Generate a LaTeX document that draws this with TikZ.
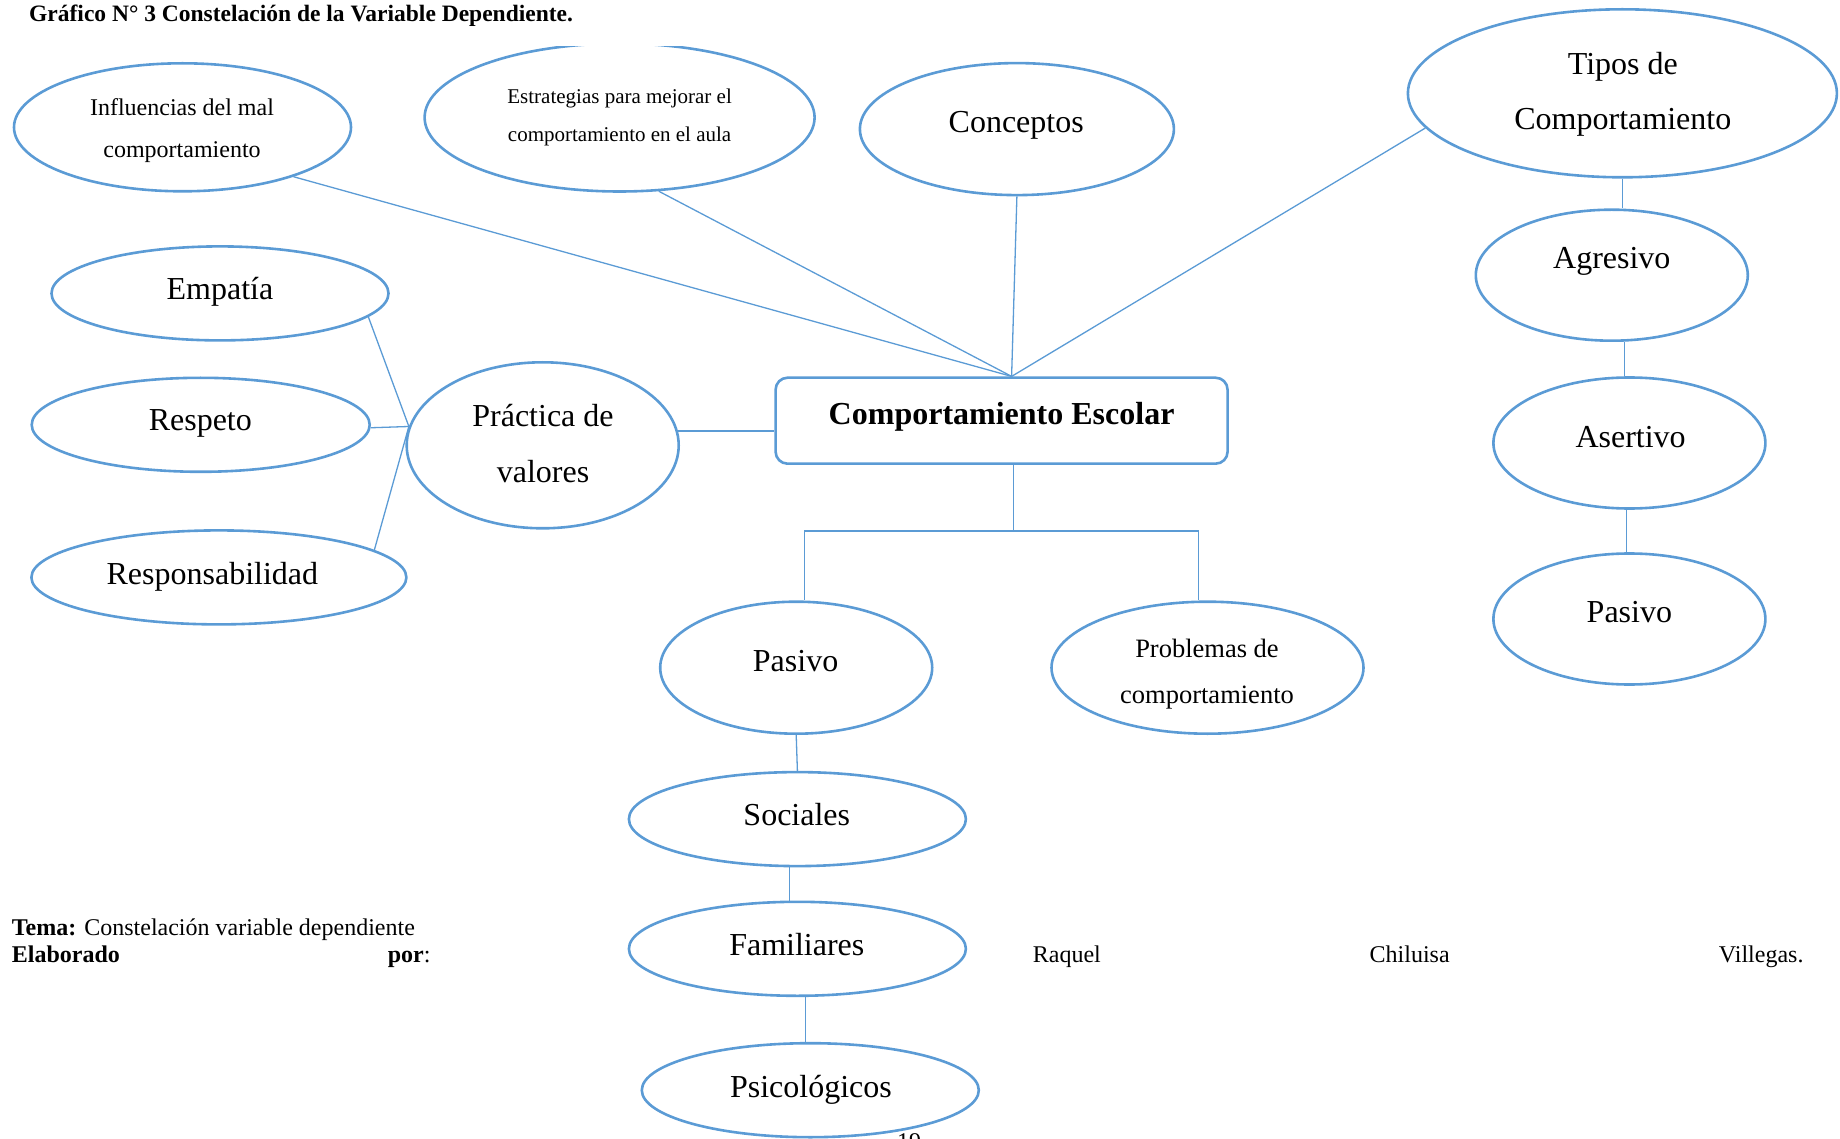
\documentclass[tikz,border=0pt]{standalone}
\usepackage{fontspec}
\setmainfont{Liberation Serif}
\usepackage{tikz}
\usetikzlibrary{calc}
\usetikzlibrary{positioning}
\usetikzlibrary{shapes}
\definecolor{azul}{RGB}{91,155,213}

\begin{document}
\begin{tikzpicture}[x=1pt, y=-1pt,
ell/.style={ellipse,draw=azul,line width=2.6pt,inner sep=0pt},
lin/.style={draw=azul,line width=1.3pt},
lbl/.style={inner sep=0pt,anchor=base,yshift=-3.5pt,font=\fontsize{32}{55}\selectfont},
lbl2/.style={inner sep=0pt,anchor=center,yshift=-3.5pt,align=center},
pie/.style={inner sep=0pt,yshift=-3.5pt,font=\fontsize{24}{27}\selectfont}]

\useasboundingbox (0,0) rectangle (1840,1139);
\clip (0,0) rectangle (1840,1139);

\node[anchor=base west,inner sep=0pt,font=\bfseries\fontsize{23.5}{26}\selectfont] (titulo) at (29,21.5) {Gráfico N° 3 Constelación de la Variable Dependiente.};

% centro
\node[draw=azul,line width=2.6pt,rounded corners=12pt,minimum width=452pt,minimum height=86pt] (box) at (1001.6,420.7) {};
\node[lbl,font=\bfseries\fontsize{32}{55}\selectfont] at (1001.6,421.4) {Comportamiento Escolar};
\coordinate (hub) at ([xshift=10pt]box.north);
\coordinate (bot) at ([xshift=12pt]box.south);
\coordinate (bar) at ($(bot)+(0,66)$);

% arriba
\node[ell,minimum width=337pt,minimum height=128pt] (inf) at (182.5,127.3) {};
\node[lbl2,font=\fontsize{24}{42.3}\selectfont] at (182,126.8) {Influencias del mal\\comportamiento};
\begin{scope}
\clip (0,47) rectangle (1840,300);
\node[ell,minimum width=390pt,minimum height=148pt] (est) at (619.6,117.5) {};
\end{scope}
\node[lbl2,font=\fontsize{21}{37.6}\selectfont] at (619.6,113.8) {Estrategias para mejorar el\\comportamiento en el aula};
\node[ell,minimum width=314pt,minimum height=132pt] (con) at (1016.9,129.1) {};
\node[lbl] at (1016.2,129.2) {Conceptos};
\node[ell,minimum width=429pt,minimum height=168pt] (tip) at (1622.4,93.3) {};
\node[lbl2,font=\fontsize{32}{55}\selectfont] at (1622.8,91) {Tipos de\\Comportamiento};

% izquierda
\node[ell,minimum width=337pt,minimum height=94pt] (emp) at (220,293.4) {};
\node[lbl] at (220,295.9) {Empatía};
\node[ell,minimum width=338pt,minimum height=94pt] (res) at (200.7,424.8) {};
\node[lbl] at (200.3,427.3) {Respeto};
\node[ell,minimum width=375pt,minimum height=94pt] (rsp) at (218.9,577.4) {};
\node[lbl] at (212.4,581) {Responsabilidad};
\node[ell,minimum width=272pt,minimum height=166pt] (pra) at (542.7,445.3) {};
\node[lbl2,font=\fontsize{32}{56.3}\selectfont] at (543,439.9) {Práctica de\\valores};

% derecha
\node[ell,minimum width=272pt,minimum height=131pt] (agr) at (1611.8,275.2) {};
\node[lbl] at (1611.8,265.4) {Agresivo};
\node[ell,minimum width=272pt,minimum height=131pt] (ase) at (1629.4,443) {};
\node[lbl] at (1630.6,443.7) {Asertivo};
\node[ell,minimum width=272pt,minimum height=131pt] (pasr) at (1629.4,619) {};
\node[lbl] at (1629.4,618.6) {Pasivo};

% abajo
\node[ell,minimum width=272pt,minimum height=132pt] (pasm) at (796.2,667.7) {};
\node[lbl] at (795.6,667.9) {Pasivo};
\node[ell,minimum width=312pt,minimum height=132pt] (pro) at (1207.5,667.7) {};
\node[lbl2,font=\fontsize{26.5}{45.7}\selectfont] at (1207,670.7) {Problemas de\\comportamiento};
\node[ell,minimum width=337pt,minimum height=94pt] (soc) at (797.4,819.1) {};
\node[lbl] at (796.8,821.6) {Sociales};
\node[ell,minimum width=337pt,minimum height=94pt] (fam) at (797.4,948.8) {};
\node[lbl] at (796.8,951.9) {Familiares};
\node[ell,minimum width=337pt,minimum height=94pt] (psi) at (810.3,1090.2) {};
\node[lbl] at (810.9,1093.9) {Psicológicos};

% conectores
\draw[lin] (inf.-24) -- (hub);
\draw[lin] (est.-62) -- (hub);
\draw[lin] (con.south) -- (hub);
\draw[lin] (tip.190) -- (hub);

\draw[lin] (tip.south) -- (tip.south |- agr.north);
\draw[lin] ([xshift=13pt]agr.south) -- ([xshift=13pt]agr.south |- ase.north);
\draw[lin] ([xshift=-3pt]ase.south) -- ([xshift=-3pt]pasr.north);

\draw[lin] (pra.6) -- (pra.6 -| box.west);
\draw[lin] (pra.172) -- (emp.-9);
\draw[lin] (pra.172) -- (res.-1);
\draw[lin] (pra.172) -- (rsp.10);

\draw[lin] (bot) -- (bar);
\draw[lin] ([xshift=8pt]pasm.north) |- (bar) -| ([xshift=-9pt]pro.north);
\draw[lin] (pasm.south) -- (soc.north);
\draw[lin] ([xshift=-8pt]soc.south) -- ([xshift=-8pt]soc.south |- fam.north);
\draw[lin] ([xshift=8pt]fam.south) -- ([xshift=8pt]fam.south |- psi.north);

% pie
\node[pie,anchor=base west] (tema) at (11.7,932.4) {\textbf{Tema:} Constelación variable dependiente};
\node[pie,anchor=base west] (elab) at (11.7,959.4) {\textbf{Elaborado}};
\node[pie,anchor=base east] (por) at (430.7,959.4) {\textbf{por}:};
\node[pie,anchor=base west] (raq) at (1032.7,959.4) {Raquel};
\node[pie,anchor=base west] (chi) at (1369.5,959.4) {Chiluisa};
\node[pie,anchor=base east] (vil) at (1803.7,959.4) {Villegas.};
\node[pie,anchor=north] (pag) at (909,1130) {19};

\end{tikzpicture}
\end{document}
